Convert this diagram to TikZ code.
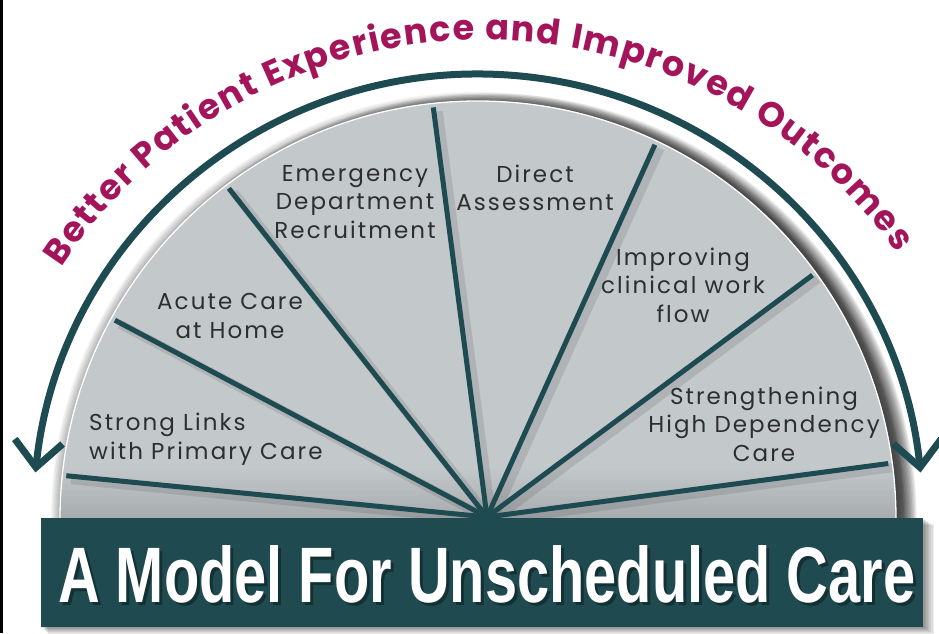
\documentclass[tikz,border=0pt]{standalone}
\usepackage{fontspec}
\usepackage{graphicx}
\usetikzlibrary{arrows.meta,decorations.text,fadings,calc}
\newfontfamily\labelfont{Poppins}[LetterSpace=9]
\newfontfamily\titlefont{Poppins}
\newfontfamily\barfont{Liberation Sans}
\definecolor{fanC}{HTML}{C3C8CB}
\definecolor{spokeC}{HTML}{1D4B51}
\definecolor{barC}{HTML}{1E4A50}
\definecolor{titleC}{HTML}{A3145B}
\definecolor{labelC}{HTML}{2E2E2E}
\begin{document}
\begin{tikzpicture}[x=1pt,y=1pt,
  spoke/.style={spokeC, line width=5pt},
  spokeshadow/.style={black, opacity=0.10, line width=9pt},
  arcarrow/.style={spokeC, line width=7pt,
    arrows={Straight Barb[length=26pt,width=48pt]-Straight Barb[length=26pt,width=48pt]}},
  seglabel/.style={inner sep=0pt, text=labelC, align=center,
    font=\labelfont\fontsize{23}{28.5}\selectfont}]
\useasboundingbox (0,0) rectangle (939,633);
\fill[white] (0,0) rectangle (939,633);
\fill[black] (0,0) rectangle (3,633);

% centres of the disc and of the spokes
\coordinate (C) at (478,114);
\coordinate (hub) at (487,116);
\foreach \n/\a in {s1/174.0, s2/151.3, s3/127.0, s4/96.2, s5/64.7, s6/36.1, s7/7.7}
  \coordinate (\n) at ($(C)+(\a:414)$);

% soft cast shadow of the raised disc
\begin{scope}
  \clip (0,115) rectangle (939,633);
  \foreach \i in {0,...,6}
    \fill[black, opacity=0.05] (C) circle[radius=418+1.5*\i];
  \foreach \i in {0,...,9}
    \fill[black, opacity=0.09] ($(C)+(10,-3)$) circle[radius=416+1.4*\i];
  % disc
  \fill[fanC] (C) circle[radius=418];
  \begin{scope}
    \clip (C) circle[radius=418];
    \fill[black, opacity=0.14, path fading=north] (0,115) rectangle (939,165);
    \foreach \n in {s1,s2,s3,s4,s5,s6,s7}
      \draw[spokeshadow] ($(hub)+(5,-4)$) -- ($(\n)+(5,-4)$);
  \end{scope}
  \draw[white, line width=1.3pt] (C) circle[radius=418];
\end{scope}

% spokes
\foreach \n in {s1,s2,s3,s4,s5,s6,s7}
  \draw[spoke] (hub) -- (\n);

% outer arrow arc
\coordinate (aL) at ($(C)+(174:445)$);
\draw[arcarrow] (aL) arc[start angle=174, end angle=6, radius=445];

% curved heading
\coordinate (T) at (484,86);
\coordinate (tS) at ($(T)+(146.5:507)$);
\path[decorate, decoration={text along path, text align=fit to path, text color=titleC,
   text={|\titlefont\bfseries\fontsize{35}{35}\selectfont|Better Patient Experience and Improved Outcomes}}]
   (tS) arc[start angle=146.5, end angle=35.5, radius=507];

% segment labels
\node[seglabel, align=left, anchor=west] (l1) at (89,194) {Strong Links\\with Primary Care};
\node[seglabel] (l2) at (230,317) {Acute Care\\at Home};
\node[seglabel] (l3) at (355,431) {Emergency\\Department\\Recruitment};
\node[seglabel] (l4) at (535,445) {Direct\\Assessment};
\node[seglabel] (l5) at (683,348) {Improving\\clinical work\\flow};
\node[seglabel] (l6) at (764,209) {Strengthening\\High Dependency\\Care};

% base bar with its shadow
\foreach \i in {1,...,7}
  \fill[black, opacity=0.07] (41+\i,6-\i) rectangle (923+1.6*\i,115-\i);
\fill[barC] (41,6) rectangle (923,115);
\node[anchor=base west, inner sep=0pt, text=black, opacity=0.35] (barshadow) at (61,28)
  {\resizebox{857pt}{57pt}{\barfont\bfseries A Model For Unscheduled Care}};
\node[anchor=base west, inner sep=0pt, text=white] (bar) at (58,31)
  {\resizebox{857pt}{57pt}{\barfont\bfseries A Model For Unscheduled Care}};
\end{tikzpicture}
\end{document}
